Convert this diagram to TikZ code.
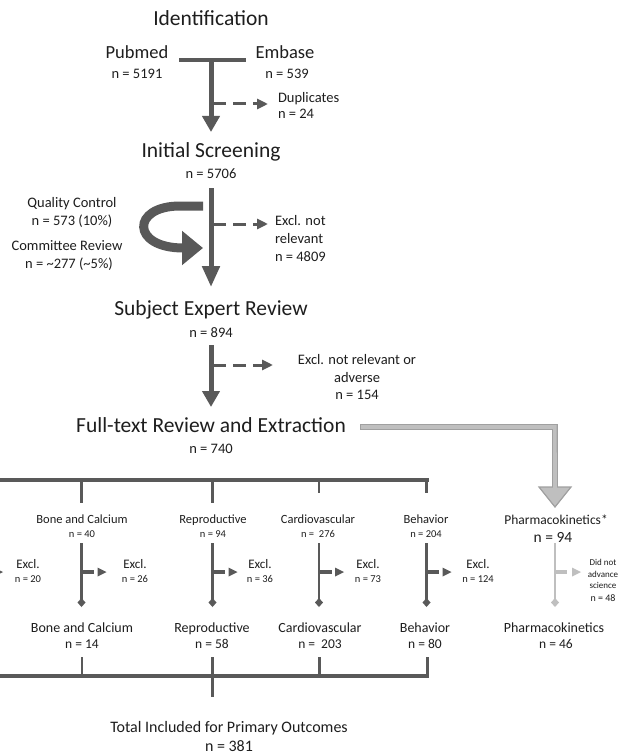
\documentclass[tikz,border=0pt]{standalone}
\usepackage{fontspec}
\setmainfont{Carlito}
\usetikzlibrary{arrows.meta}
\definecolor{dk}{HTML}{595959}
\definecolor{txt}{HTML}{1E1E1E}
\definecolor{lg}{HTML}{BFBFBF}
\definecolor{og}{HTML}{A0A0A0}
\begin{document}
\begin{tikzpicture}[x=1pt,y=-1pt,
  every node/.style={inner sep=0pt, outer sep=0pt, text=txt, text height=1.05em, text depth=0pt},
  ttl/.style={font=\fontsize{21.5}{24}\selectfont},
  src/.style={font=\fontsize{18.5}{21}\selectfont},
  med/.style={font=\fontsize{14.5}{17}\selectfont},
  cat/.style={font=\fontsize{12.5}{15}\selectfont},
  sml/.style={font=\fontsize{10.5}{12}\selectfont},
  exc/.style={font=\fontsize{13}{15}\selectfont},
  bot/.style={font=\fontsize{14}{16}\selectfont},
  botn/.style={font=\fontsize{13.5}{16}\selectfont},
  tiny/.style={font=\fontsize{9}{10}\selectfont},
  big/.style={font=\fontsize{16}{19}\selectfont},
  mainarrow/.style={draw=dk, line width=5pt, -{Triangle[length=16pt,width=17pt]}},
  dasharrow/.style={draw=dk, line width=3pt, dash pattern=on 13pt off 7pt, -{Triangle[length=11pt,width=10pt]}},
  bar/.style={draw=dk, line width=4pt},
  tick/.style={draw=dk, line width=2.5pt},
  catline/.style={draw=#1, line width=2.5pt, -{Diamond[length=9pt,width=8pt]}},
  stubline/.style={draw=#1, line width=4pt},
]
\useasboundingbox (0,0) rectangle (625,754);
\fill[white] (0,0) rectangle (625,754);
\clip (0,0) rectangle (625,754);

% ---- identification
\node[ttl] (id) at (211,20) {Identification};
\node[src] (pub) at (137,53) {Pubmed};
\node[med] (pubn) at (137,73) {n = 5191};
\node[src] (emb) at (285,53) {Embase};
\node[med] (embn) at (287,73) {n = 539};
\coordinate (barL) at (179,60);
\coordinate (barR) at (246,60);
\coordinate (barM) at (211,60);
\draw[bar] (barL) -- (barR);
\node[med, anchor=west] (dup) at (278,97) {Duplicates};
\node[med, anchor=west] (dupn) at (278,113) {n = 24};
\coordinate (a1e) at (211,132);
\draw[mainarrow] (barM) -- (a1e);
\coordinate (d1s) at (213,104);
\coordinate (d1e) at (268,104);
\draw[dasharrow] (d1s) -- (d1e);

% ---- initial screening
\node[ttl] (is) at (211,152) {Initial Screening};
\node[med] (isn) at (211,173) {n = 5706};
\coordinate (a2s) at (211,188);
\coordinate (a2e) at (211,287);
\draw[mainarrow, -{Triangle[length=21pt,width=17pt]}] (a2s) -- (a2e);
\coordinate (d2s) at (213,224);
\coordinate (d2e) at (268,224);
\draw[dasharrow] (d2s) -- (d2e);
\node[med, anchor=west] (ex1a) at (275,220) {Excl. not};
\node[med, anchor=west] (ex1b) at (275,238) {relevant};
\node[med, anchor=west] (ex1c) at (275,256) {n = 4809};

\node[med] (qc) at (72,202) {Quality Control};
\node[med] (qcn) at (72,220) {n = 573 (10\%)};
\node[med] (cr) at (67,245) {Committee Review};
\node[med] (crn) at (69,263) {n = \textasciitilde277 (\textasciitilde5\%)};
\coordinate (cs) at (203,206);
\coordinate (ce) at (203,248);
\draw[draw=dk, line width=9pt, -{Triangle[length=21pt,width=33pt]}]
  (cs) -- (180,206) .. controls (131,206) and (131,248) .. (ce);

% ---- subject expert review
\node[ttl] (ser) at (211,310) {Subject Expert Review};
\node[med] (sern) at (211,332) {n = 894};
\coordinate (a3s) at (211,345);
\coordinate (a3e) at (211,407);
\draw[mainarrow] (a3s) -- (a3e);
\coordinate (d3s) at (213,365);
\coordinate (d3e) at (273,365);
\draw[dasharrow] (d3s) -- (d3e);
\node[med] (ex2a) at (357,359) {Excl. not relevant or};
\node[med] (ex2b) at (357,377) {adverse};
\node[med] (ex2c) at (357,394) {n = 154};

% ---- full text
\node[ttl] (ft) at (211,427) {Full-text Review and Extraction};
\node[med] (ftn) at (211,448) {n = 740};
\coordinate (gs) at (360,427);
\coordinate (gc) at (555,427);
\coordinate (ge) at (555,488);
\coordinate (gtip) at (555,507);
\draw[draw=og, line width=6pt] (gs) -- (gc) -- (ge);
\filldraw[fill=lg, draw=og, line width=1.2pt] (539,487) -- (571,487) -- (gtip) -- cycle;
\draw[draw=lg, line width=3.6pt] (gs) ++(0.8,0) -- (554.9,427) -- (555,490);
\draw[draw=og, line width=1.2pt] (360.6,424) -- (360.6,430);

% ---- branch bars
\draw[bar] (-5,480) -| (426.5,482);
\draw[draw=dk, line width=3pt] (426.5,479) -- (426.5,493);
\foreach \x/\e in {81.5/503, 212.5/503, 319/493} {
  \draw[tick] (\x,480) -- (\x,\e);
}
\draw[bar] (-5,676) -- (427,676);
\draw[draw=dk, line width=3pt] (427,678) -- (427,657);
\foreach \x in {82, 319.5} {
  \draw[tick] (\x,657) -- (\x,676);
}
\draw[tick] (212.5,657) -- (212.5,697);

% ---- category columns
\foreach \x in {-22, 81.5, 212.5, 319, 426.5} {
  \draw[catline=dk] (\x,543) -- (\x,607);
  \draw[stubline=dk] (\x,572) -- ++(12.5,0);
  \fill[dk] (\x+16,567.5) -- (\x+25,572) -- (\x+16,576.5) -- cycle;
}
\draw[catline=lg] (555,543) -- (555,607);
\draw[stubline=lg] (555,572) -- ++(12,0);
\fill[lg] (572,567.5) -- (581,572) -- (572,576.5) -- cycle;

\node[cat] (t1) at (82,518) {Bone and Calcium};
\node[sml] (t1n) at (82,532) {n = 40};
\node[cat] (t2) at (213,518) {Reproductive};
\node[sml] (t2n) at (213,532) {n = 94};
\node[cat] (t3) at (318,518) {Cardiovascular};
\node[sml] (t3n) at (318,532) {n =\ \ 276};
\node[cat] (t4) at (426,518) {Behavior};
\node[sml] (t4n) at (426,532) {n = 204};
\node[font=\fontsize{13.5}{16}\selectfont] (t5) at (556,519) {Pharmacokinetics*};
\node[font=\fontsize{15.5}{18}\selectfont] (t5n) at (553,537) {n = 94};

\foreach \x/\n [count=\i] in {28/20, 135/26, 260/36, 368/73, 478/124} {
  \node[exc] (ex\i) at (\x,563) {Excl.};
  \node[sml] (ex\i n) at (\x,577) {n = \n};
}
\node[tiny] (dn1) at (603,560) {Did not};
\node[tiny] (dn2) at (603,572) {advance};
\node[tiny] (dn3) at (603,583) {science};
\node[font=\fontsize{10}{12}\selectfont] (dn4) at (603,596) {n = 48};

\node[bot] (b1) at (82,627) {Bone and Calcium};
\node[botn] (b1n) at (82,643) {n = 14};
\node[bot] (b2) at (212,627) {Reproductive};
\node[botn] (b2n) at (212,643) {n = 58};
\node[bot] (b3) at (320,627) {Cardiovascular};
\node[botn] (b3n) at (320,643) {n =\ \ 203};
\node[bot] (b4) at (425,627) {Behavior};
\node[botn] (b4n) at (425,643) {n = 80};
\node[bot] (b5) at (554,627) {Pharmacokinetics};
\node[botn] (b5n) at (556,643) {n = 46};

\node[big] (tot) at (229,727) {Total Included for Primary Outcomes};
\node[big] (totn) at (229,746) {n = 381};
\end{tikzpicture}
\end{document}
